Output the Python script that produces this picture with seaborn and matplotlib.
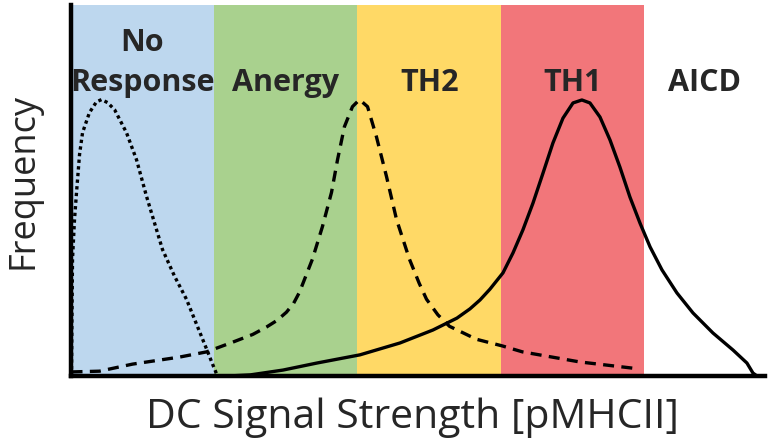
import matplotlib
matplotlib.use("Agg")
import matplotlib.pyplot as plt
import seaborn as sns
import pandas as pd

# response regions along the signal axis (one band per region, last one open)
regions = ["No\nResponse", "Anergy", "TH2", "TH1", "AICD"]
band_edges = [0, 1, 2, 3, 4]
band_colors = ["#BDD7EE", "#A9D18E", "#FFD966", "#F2767A"]
x_max = 4.84

# curves
dotted_x = [0.007, 0.010, 0.014, 0.028, 0.042, 0.063, 0.084, 0.132, 0.181, 0.216,
            0.258, 0.307, 0.390, 0.460, 0.530, 0.641, 0.725, 0.808, 0.878, 0.948,
            0.990, 1.024]
dotted_y = [0.0, 0.153, 0.315, 0.422, 0.495, 0.597, 0.656, 0.710, 0.739, 0.745,
            0.737, 0.718, 0.656, 0.583, 0.484, 0.341, 0.269, 0.207, 0.140, 0.073,
            0.032, 0.0]

dashed_x = [0.007, 0.202, 0.432, 0.760, 0.948, 1.129, 1.270, 1.366, 1.440, 1.505,
            1.555, 1.596, 1.686, 1.756, 1.819, 1.861, 1.909, 1.965, 2.014, 2.070,
            2.132, 2.202, 2.272, 2.362, 2.430, 2.481, 2.560, 2.641, 2.829, 3.010,
            3.150, 3.547, 3.965]
dashed_y = [0.011, 0.013, 0.032, 0.051, 0.065, 0.091, 0.112, 0.132, 0.150, 0.172,
            0.196, 0.226, 0.315, 0.403, 0.495, 0.583, 0.672, 0.726, 0.745, 0.726,
            0.645, 0.538, 0.422, 0.315, 0.250, 0.207, 0.165, 0.134, 0.099, 0.081,
            0.065, 0.038, 0.019]

solid_x = [1.10, 1.253, 1.481, 1.718, 2.017, 2.296, 2.526, 2.693, 2.784, 2.854,
           2.923, 3.014, 3.084, 3.153, 3.223, 3.293, 3.362, 3.432, 3.502, 3.564,
           3.620, 3.690, 3.760, 3.829, 3.899, 3.969, 4.039, 4.122, 4.226, 4.338,
           4.477, 4.617, 4.714, 4.756, 4.784]
solid_y = [0.0, 0.003, 0.016, 0.035, 0.057, 0.089, 0.124, 0.156, 0.181, 0.205,
           0.234, 0.278, 0.332, 0.394, 0.466, 0.547, 0.628, 0.695, 0.736, 0.744,
           0.736, 0.698, 0.636, 0.563, 0.482, 0.412, 0.348, 0.286, 0.224, 0.170,
           0.116, 0.070, 0.035, 0.008, 0.0]

sns.set_style("white")
plt.rcParams['font.family'] = ['Open Sans', 'DejaVu Sans']

fig = plt.figure(figsize=(7.68, 4.42), dpi=100)
ax = fig.add_axes([70.5 / 768, 1 - 376 / 442, (765 - 70.5) / 768, (376 - 5) / 442])

for left, color in zip(band_edges, band_colors):
    ax.axvspan(left, left + 1, color=color, lw=0, zorder=0)

curves = [
    (dotted_x, dotted_y, (0, (1, 1))),
    (dashed_x, dashed_y, (0, (3.3, 2.2))),
    (solid_x, solid_y, "-"),
]
for xs, ys, ls in curves:
    df = pd.DataFrame({"x": xs, "y": ys})
    sns.lineplot(data=df, x="x", y="y", sort=False, estimator=None, ax=ax,
                 color="black", lw=2.4, linestyle=ls, zorder=2)

label_x = [e + 0.5 for e in band_edges[:-1]] + [(band_edges[-1] + x_max) / 2]
for name, lx in zip(regions, label_x):
    ax.text(lx, (376 - 91) / 371, name, ha="center", va="baseline", fontsize=22,
            fontweight="bold", linespacing=1.45)

ax.set_xlim(0, x_max)
ax.set_ylim(0, 1)
ax.set_xticks([])
ax.set_yticks([])
sns.despine(ax=ax)
for side in ["left", "bottom"]:
    ax.spines[side].set_linewidth(3.2)
    ax.spines[side].set_color("black")

ax.set_xlabel("DC Signal Strength [pMHCII]", fontsize=29.5, va="baseline")
ax.set_ylabel("Frequency", fontsize=26)
ax.xaxis.set_label_coords(0.493, -0.14)
ax.yaxis.set_label_coords(-0.042, 0.525)

fig.savefig("out.png", dpi=100)
